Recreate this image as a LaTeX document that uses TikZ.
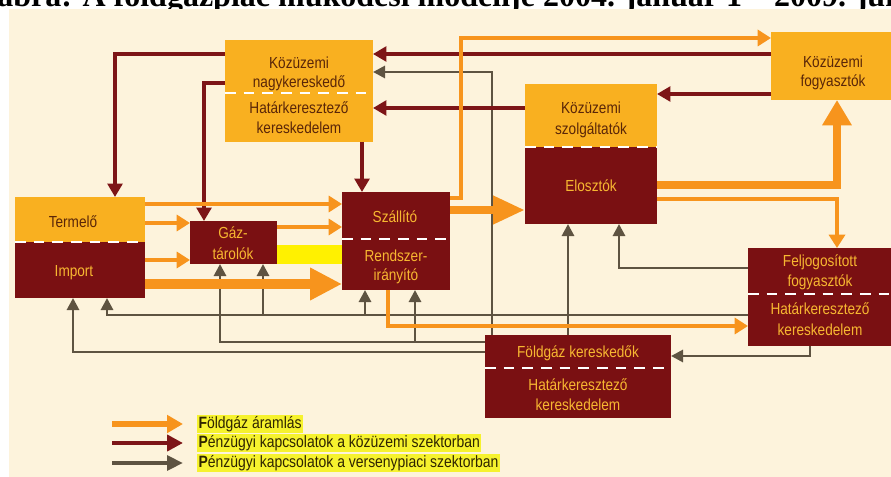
\documentclass[tikz,border=0pt]{standalone}
\usepackage{fontspec}
\setmainfont{Liberation Sans}[FakeStretch=0.85]
\newfontfamily\titlefont{Liberation Serif}
\usetikzlibrary{arrows.meta}
\definecolor{bgc}{HTML}{FDF3DC}
\definecolor{orbox}{HTML}{F9B020}
\definecolor{rdbox}{HTML}{7A1012}
\definecolor{flowc}{HTML}{F7941D}
\definecolor{pubc}{HTML}{7D1517}
\definecolor{compc}{HTML}{5E5341}
\definecolor{darktxt}{HTML}{5A2608}
\definecolor{lighttxt}{HTML}{F7B731}
\definecolor{yel}{HTML}{FFF100}
\definecolor{hl}{HTML}{F6F22E}
\definecolor{legtxt}{HTML}{2E2400}
\begin{document}
\begin{tikzpicture}[x=0.75pt,y=-0.75pt,
  box/.style={inner sep=0pt, outer sep=0pt, draw=none},
  obox/.style={box, fill=orbox},
  rbox/.style={box, fill=rdbox},
  sep/.style={draw=white, line width=2.2pt, dash pattern=on 8pt off 6pt},
  dt/.style={inner sep=0pt, text=darktxt, font=\fontsize{12}{14}\selectfont},
  lt/.style={inner sep=0pt, text=lighttxt, font=\fontsize{12}{14}\selectfont},
  flow/.style={draw=flowc, line width=3pt, -{Triangle[length=10pt,width=12pt]}},
  bigflow/.style={draw=flowc, line width=7pt, -{Triangle[length=24pt,width=22pt]}},
  pub/.style={draw=pubc, line width=2.6pt, -{Triangle[length=10pt,width=11pt]}},
  comp/.style={draw=compc, line width=2.1pt, -{Triangle[length=9pt,width=9pt]}},
  legtext/.style={anchor=west, inner sep=1pt, fill=hl, text=legtxt, font=\fontsize{12.3}{14}\selectfont}
]
\useasboundingbox (0,0) rectangle (891,477);
% title (cut off at the top, as in the reference)
\begin{scope}
\clip (0,0) rectangle (891,477);
\node[anchor=base west, inner sep=0pt, font=\titlefont\bfseries\fontsize{24}{28}\selectfont] (title) at (-3,7) {ábra: A földgázpiac működési modellje 2004. január 1 – 2009. jún};
\end{scope}
% background
\fill[bgc] (9,9) rectangle (891,477);

% boxes
\node[obox, minimum width=111pt, minimum height=76.5pt] (nagy) at (299,91) {};
\node[rbox, minimum width=97.5pt, minimum height=75.75pt] (term) at (80,247.5) {};
\fill[orbox] (term.north west) rectangle (term.east |- 0,242);
\node[rbox, minimum width=65.25pt, minimum height=32.25pt] (gaz) at (233.5,242.5) {};
\fill[yel] (gaz.east |- 0,245) rectangle (342,264);
\node[rbox, minimum width=81pt, minimum height=73.5pt] (szal) at (396,241) {};
\node[rbox, minimum width=99pt, minimum height=105pt] (szolg) at (591,154) {};
\fill[orbox] (szolg.north west) rectangle (szolg.east |- 0,147);
\node[obox, minimum width=93.75pt, minimum height=51pt] (kfogy) at (833.5,66) {};
\node[rbox, minimum width=108pt, minimum height=73.5pt] (feljog) at (820,297) {};
\node[rbox, minimum width=139.5pt, minimum height=62.25pt] (foldgaz) at (578,376.5) {};

% dashed separators
\draw[sep] (nagy.west |- 0,93) -- (nagy.east |- 0,93);
\draw[sep] (term.west |- 0,242) -- (term.east |- 0,242);
\draw[sep] (szal.west |- 0,239) -- (szal.east |- 0,239);
\draw[sep] (szolg.west |- 0,147) -- (szolg.east |- 0,147);
\draw[sep] (feljog.west |- 0,294) -- (feljog.east |- 0,294);
\draw[sep] (foldgaz.west |- 0,368) -- (foldgaz.east |- 0,368);

% competitive-sector money flows (grey-brown)
\draw[comp] (feljog.west |- 0,315) -| (term.south -| 107,0);
\draw[comp] (feljog.west |- 0,315) -| (gaz.south -| 263,0);
\draw[comp] (feljog.west |- 0,315) -| (szal.south -| 365,0);
\draw[comp] (foldgaz.west |- 0,342) -| (gaz.south -| 220,0);
\draw[comp] (foldgaz.west |- 0,342) -| (szal.south -| 415,0);
\draw[comp] (foldgaz.west |- 0,352) -| (term.south -| 73,0);
\draw[comp] (foldgaz.north -| 492,0) |- (nagy.east |- 0,72);
\draw[comp] (foldgaz.north -| 568,0) -- (szolg.south -| 568,0);
\draw[comp] (feljog.west |- 0,268) -| (szolg.south -| 619,0);
\draw[comp] (feljog.south -| 810,0) |- (foldgaz.east |- 0,356);

% public-utility money flows (dark red)
\draw[pub] (nagy.west |- 0,54) -| (term.north -| 115,0);
\draw[pub] (nagy.west |- 0,83) -| (gaz.north -| 204,0);
\draw[pub] (nagy.south -| 362,0) -- (szal.north -| 362,0);
\draw[pub] (kfogy.west |- 0,54) -- (nagy.east |- 0,54);
\draw[pub] (szolg.west |- 0,108) -- (nagy.east |- 0,108);
\draw[pub] (kfogy.west |- 0,94) -- (szolg.east |- 0,94);

% gas flows (orange)
\draw[flow] (term.east |- 0,204) -- (szal.west |- 0,204);
\draw[flow] (term.east |- 0,223) -- (gaz.west |- 0,223);
\draw[flow] (term.east |- 0,260) -- (gaz.west |- 0,260);
\draw[bigflow, -{Triangle[length=24pt,width=23pt]}] (term.east |- 0,284) -- (szal.west |- 0,284);
\draw[flow] (gaz.east |- 0,227) -- (szal.west |- 0,227);
\draw[flow] (szal.east |- 0,198) -- ++(11,0) |- (kfogy.west |- 0,38);
\draw[bigflow, line width=6.5pt, -{Triangle[length=24pt,width=20pt]}] (szal.east |- 0,210) -- (szolg.west |- 0,210);
\draw[bigflow, line width=6.5pt, -{Triangle[length=19pt,width=21pt]}] (szolg.east |- 0,185) -| (kfogy.south -| 837,0);
\draw[flow] (szolg.east |- 0,199) -| (feljog.north -| 837,0);
\draw[flow] (szal.south -| 388,0) |- (feljog.west |- 0,326);

% texts
\node[dt] (t1) at (299,63) {Közüzemi};
\node[dt] (t2) at (299,83) {nagykereskedő};
\node[dt] (t3) at (299,108) {Határkeresztező};
\node[dt] (t4) at (299,128) {kereskedelem};
\node[dt] (t5) at (73,222) {Termelő};
\node[lt] (t6) at (74,273) {Import};
\node[lt] (t7) at (233,233) {Gáz-};
\node[lt] (t8) at (233,254) {tárolók};
\node[lt] (t9) at (395,217) {Szállító};
\node[lt] (t10) at (396,256) {Rendszer-};
\node[lt] (t11) at (396,276) {irányító};
\node[dt] (t12) at (591,108) {Közüzemi};
\node[dt] (t13) at (591,130) {szolgáltatók};
\node[lt] (t14) at (591,186) {Elosztók};
\node[dt] (t15) at (833,62) {Közüzemi};
\node[dt] (t16) at (833,82) {fogyasztók};
\node[lt] (t17) at (820,262) {Feljogosított};
\node[lt] (t18) at (820,282) {fogyasztók};
\node[lt] (t19) at (820,309) {Határkeresztező};
\node[lt] (t20) at (820,330) {kereskedelem};
\node[lt] (t21) at (578,353) {Földgáz kereskedők};
\node[lt] (t22) at (578,385) {Határkeresztező};
\node[lt] (t23) at (578,405) {kereskedelem};

% legend
\coordinate (la1) at (112,424); \coordinate (lb1) at (183,424);
\coordinate (la2) at (112,443); \coordinate (lb2) at (183,443);
\coordinate (la3) at (112,463); \coordinate (lb3) at (183,463);
\draw[flow, line width=4pt, -{Triangle[length=12pt,width=13pt]}] (la1) -- (lb1);
\draw[pub, line width=3.2pt, -{Triangle[length=12pt,width=12pt]}] (la2) -- (lb2);
\draw[comp, line width=3pt, -{Triangle[length=12pt,width=11pt]}] (la3) -- (lb3);
\node[legtext] (lg1) at (197,424) {\textbf{F}öldgáz áramlás};
\node[legtext] (lg2) at (197,443) {\textbf{P}énzügyi kapcsolatok a közüzemi szektorban};
\node[legtext] (lg3) at (197,463) {\textbf{P}énzügyi kapcsolatok a versenypiaci szektorban};
\end{tikzpicture}
\end{document}
